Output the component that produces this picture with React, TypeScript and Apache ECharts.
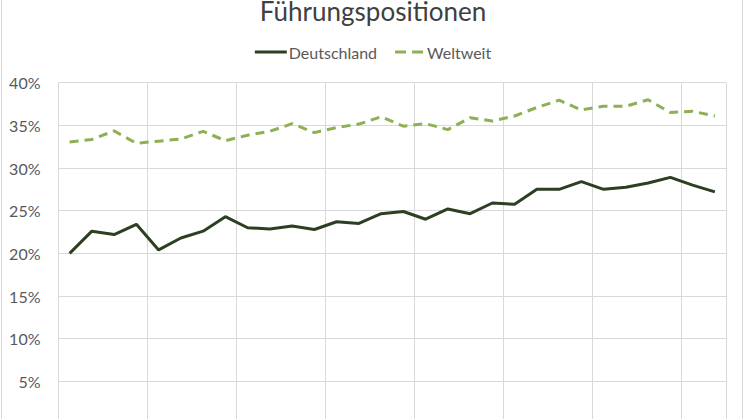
import React, { useEffect, useRef } from "react";
import * as echarts from "echarts";

const categories: string[] = [
  "1", "2", "3", "4", "5", "6", "7", "8", "9", "10",
  "11", "12", "13", "14", "15", "16", "17", "18", "19", "20",
  "21", "22", "23", "24", "25", "26", "27", "28", "29", "30",
];

const deutschland: number[] = [
  20.0, 22.6, 22.2, 23.4, 20.4, 21.8, 22.6, 24.3, 23.0, 22.85,
  23.2, 22.8, 23.7, 23.5, 24.65, 24.9, 24.0, 25.2, 24.65, 25.9,
  25.75, 27.5, 27.5, 28.4, 27.5, 27.75, 28.25, 28.9, 28.0, 27.2,
];

const weltweit: number[] = [
  33.05, 33.35, 34.35, 32.9, 33.15, 33.4, 34.3, 33.2, 33.85, 34.3,
  35.2, 34.15, 34.75, 35.15, 36.0, 34.9, 35.2, 34.5, 35.9, 35.5,
  36.1, 37.1, 37.95, 36.8, 37.25, 37.25, 38.0, 36.5, 36.65, 36.1,
];

const seriesNames: string[] = ["Deutschland", "Weltweit"];
const chartTitle = "Führungspositionen";

const FONT = "Lato, 'Noto Sans', sans-serif";
const DARK = "#2C3F23";
const LIGHT = "#8EB054";

export default function App() {
  const ref = useRef<HTMLDivElement>(null);

  useEffect(() => {
    if (!ref.current) return;
    const chart = echarts.init(ref.current, undefined, { renderer: "svg" });
    chart.setOption({
      animation: false,
      backgroundColor: "#ffffff",
      title: {
        text: chartTitle,
        left: "center",
        top: 0,
        padding: 0,
        textStyle: {
          fontFamily: FONT,
          fontSize: 26,
          lineHeight: 22,
          fontWeight: "normal",
          color: "#404040",
        },
      },
      legend: {
        top: 39,
        left: "center",
        itemWidth: 32,
        itemHeight: 3,
        itemGap: 18,
        textStyle: {
          fontFamily: FONT,
          fontSize: 16,
          color: "#595959",
          padding: [0, 0, 0, -3],
        },
        data: [
          { name: seriesNames[0], icon: "path://M0,0H32V3H0Z", itemStyle: { color: DARK } },
          {
            name: seriesNames[1],
            icon: "path://M0,0H11V3H0Z M17,0H28V3H17Z",
            itemStyle: { color: LIGHT },
          },
        ],
      },
      grid: {
        left: 58.5,
        right: 20,
        top: 82.7,
        bottom: 16,
        containLabel: false,
      },
      xAxis: {
        type: "category",
        data: categories,
        boundaryGap: true,
        axisLine: { show: false },
        axisTick: { show: false },
        axisLabel: { show: false },
        splitLine: {
          show: true,
          interval: 3,
          lineStyle: { color: "#d9d9d9", width: 1 },
        },
      },
      yAxis: {
        type: "value",
        min: 0,
        max: 40,
        interval: 5,
        axisLine: { show: false },
        axisTick: { show: false },
        axisLabel: {
          formatter: "{value}%",
          fontFamily: FONT,
          fontSize: 16,
          color: "#595959",
          margin: 18,
        },
        splitLine: { show: true, lineStyle: { color: "#d9d9d9", width: 1 } },
      },
      graphic: [
        {
          type: "line",
          shape: { x1: 1.5, y1: 0, x2: 1.5, y2: 440 },
          style: { stroke: "#d9d9d9", lineWidth: 1 },
          silent: true,
        },
        {
          type: "line",
          shape: { x1: 742.5, y1: 0, x2: 742.5, y2: 440 },
          style: { stroke: "#d9d9d9", lineWidth: 1 },
          silent: true,
        },
      ],
      series: [
        {
          name: seriesNames[0],
          type: "line",
          data: deutschland,
          symbol: "none",
          smooth: false,
          lineStyle: { color: DARK, width: 3 },
          itemStyle: { color: DARK },
        },
        {
          name: seriesNames[1],
          type: "line",
          data: weltweit,
          symbol: "none",
          smooth: false,
          lineStyle: { color: LIGHT, width: 3, type: [9, 6] },
          itemStyle: { color: LIGHT },
        },
      ],
    });
    return () => chart.dispose();
  }, []);

  return (
    <div
      style={{
        position: "fixed",
        left: 0,
        top: 0,
        width: 746,
        height: 419,
        overflow: "hidden",
        background: "#ffffff",
      }}
    >
      <div ref={ref} style={{ width: 746, height: 440 }} />
    </div>
  );
}
